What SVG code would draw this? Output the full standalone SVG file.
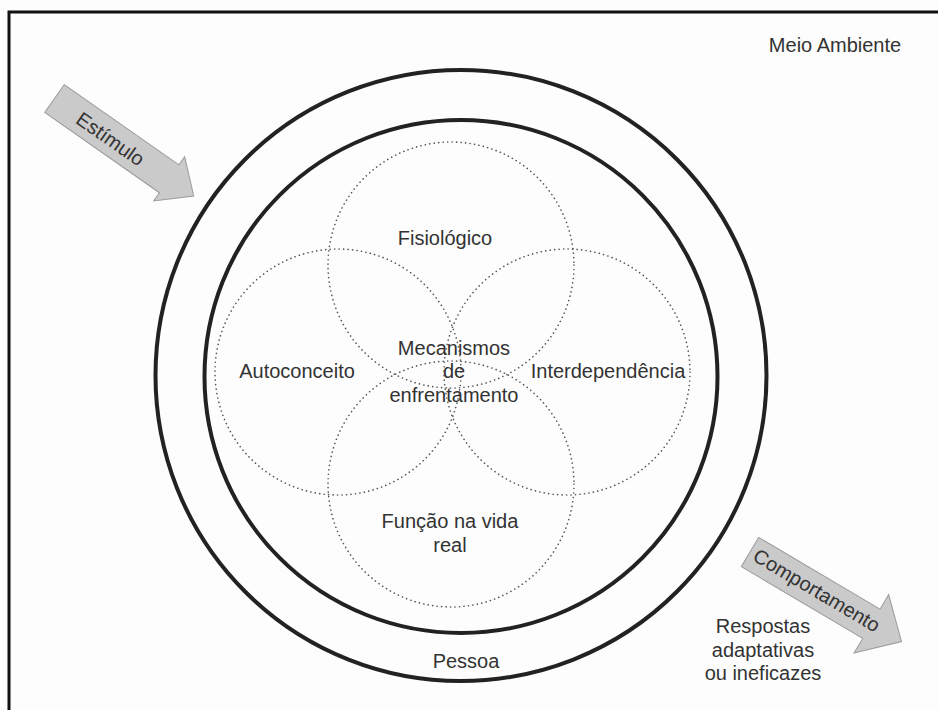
<svg xmlns="http://www.w3.org/2000/svg" width="938" height="710" viewBox="0 0 938 710">
<style>
  .t { font-family: "Liberation Sans", Arial, sans-serif; font-size: 20px; fill: #333; text-anchor: middle; }
  .ring { fill: none; stroke: #222; stroke-width: 4; }
  .dot { fill: none; stroke: #555; stroke-width: 1.6; stroke-dasharray: 0.1 4.4; stroke-linecap: round; }
  .arrow { fill: #cacaca; stroke: #9a9a9a; stroke-width: 1; }
</style>
<rect x="0" y="0" width="938" height="710" fill="#fdfdfd"/>
<g id="frame">
  <path d="M9 712 L9 12 L940 12" fill="none" stroke="#111" stroke-width="3"/>
  <text class="t" x="835" y="52" font-size="19">Meio Ambiente</text>
</g>
<g id="pessoa">
  <circle class="ring" cx="461" cy="375.5" r="305.5"/>
  <circle class="ring" cx="461" cy="376.5" r="256.5"/>
  <text class="t" x="466" y="668">Pessoa</text>
</g>
<g id="fisiologico">
  <circle class="dot" cx="451" cy="265" r="123"/>
  <text class="t" x="445" y="245">Fisiológico</text>
</g>
<g id="autoconceito">
  <circle class="dot" cx="338" cy="372" r="123"/>
  <text class="t" x="297" y="378">Autoconceito</text>
</g>
<g id="interdependencia">
  <circle class="dot" cx="567" cy="372" r="123"/>
  <text class="t" x="608" y="378">Interdependência</text>
</g>
<g id="funcao">
  <circle class="dot" cx="451" cy="484" r="123"/>
  <text class="t" x="450" y="528">Função na vida</text>
  <text class="t" x="450" y="552">real</text>
</g>
<g id="mecanismos">
  <text class="t" x="454" y="355">Mecanismos</text>
  <text class="t" x="454" y="378">de</text>
  <text class="t" x="454" y="402">enfrentamento</text>
</g>
<g id="connectors">
  <g id="estimulo" transform="translate(54.5,98.5) rotate(35)">
    <polygon class="arrow" points="0,-17 140,-17 140,-27 170,0 140,27 140,17 0,17"/>
    <text class="t" x="69" y="8">Estímulo</text>
  </g>
  <g id="comportamento" transform="translate(750,552) rotate(30.6)">
    <polygon class="arrow" points="0,-17 141,-17 141,-34 176,0 141,34 141,17 0,17"/>
    <text class="t" x="77" y="6" font-size="21">Comportamento</text>
  </g>
</g>
<g id="respostas">
  <text class="t" x="763" y="633">Respostas</text>
  <text class="t" x="763" y="657">adaptativas</text>
  <text class="t" x="763" y="680">ou ineficazes</text>
</g>
</svg>
